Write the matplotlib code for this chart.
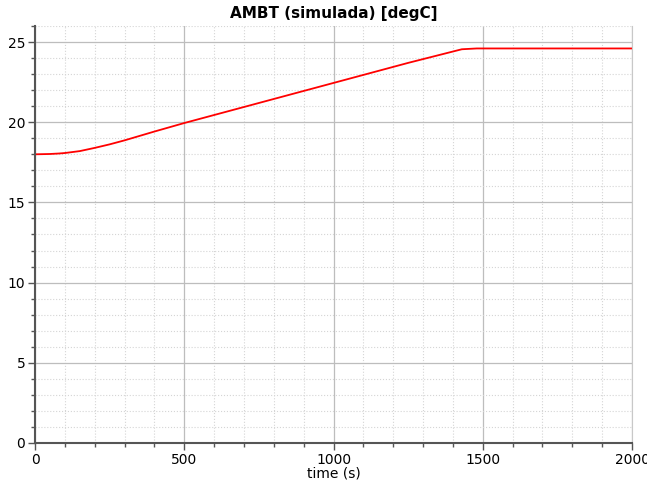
import numpy as np
import matplotlib
matplotlib.use("Agg")
import matplotlib.pyplot as plt
from matplotlib.ticker import MultipleLocator

# simulated ambient temperature
time_s = [0, 50, 80, 100, 150, 200, 250, 300, 400, 500, 750, 1000, 1250, 1430, 1480, 2000]
ambt = [18.0, 18.02, 18.05, 18.08, 18.2, 18.4, 18.62, 18.87, 19.42, 19.95, 21.2, 22.45, 23.7, 24.55, 24.6, 24.6]

fig = plt.figure(figsize=(6.47, 4.84), dpi=100)
ax = fig.add_axes([35/647, 41/484, 597/647, 417/484])

ax.plot(time_s, ambt, color="red", lw=1.3)

ax.set_xlim(0, 2000)
ax.set_ylim(0, 26)
ax.xaxis.set_major_locator(MultipleLocator(500))
ax.xaxis.set_minor_locator(MultipleLocator(100))
ax.yaxis.set_major_locator(MultipleLocator(5))
ax.yaxis.set_minor_locator(MultipleLocator(1))

ax.grid(which="major", color="#bdbdbd", lw=0.9, ls="-")
ax.grid(which="minor", color="#d5d5d5", lw=0.8, ls=":")
ax.set_axisbelow(True)

for s in ["left", "bottom"]:
    ax.spines[s].set_color("#555555")
    ax.spines[s].set_linewidth(1.5)
ax.spines["right"].set_color("#c8c8c8")
ax.spines["top"].set_visible(False)

ax.tick_params(which="major", length=5, width=1, color="#555555", labelsize=10, pad=2)
ax.tick_params(which="minor", length=3, width=1, color="#555555")

ax.set_xlabel("time (s)", fontsize=10, labelpad=0)
ax.set_title("AMBT (simulada) [degC]", fontsize=11, fontweight="bold", pad=6)

fig.savefig("out.png", dpi=100)
